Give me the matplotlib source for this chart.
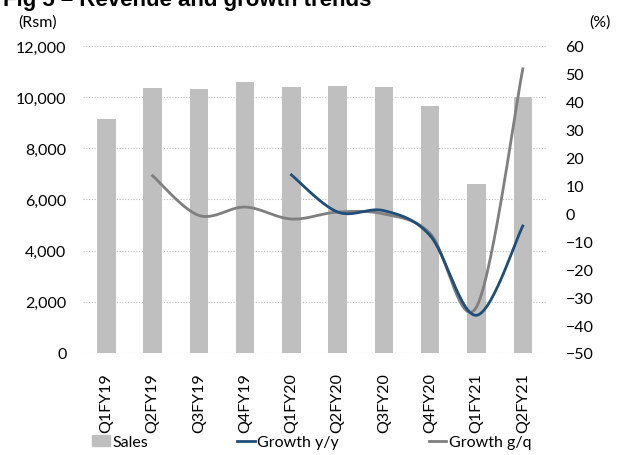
import numpy as np
import matplotlib.pyplot as plt
from matplotlib.lines import Line2D
from matplotlib.patches import Patch

quarters = ['Q1FY19', 'Q2FY19', 'Q3FY19', 'Q4FY19', 'Q1FY20',
            'Q2FY20', 'Q3FY20', 'Q4FY20', 'Q1FY21', 'Q2FY21']
sales = [9130, 10340, 10300, 10580, 10400, 10450, 10400, 9650, 6600, 10020]
growth_yy = [None, None, None, None, 13.8, 0.5, 1.0, -8.0, -36.5, -4.5]
growth_qq = [None, 13.5, -0.7, 2.3, -2.0, 0.5, -0.2, -7.2, -33.5, 51.8]


def smooth(xs, ys, n=30):
    # Catmull-Rom curve through the points, like a smoothed line in Excel
    xs = np.asarray(xs, float)
    ys = np.asarray(ys, float)
    px = np.concatenate([[xs[0]], xs, [xs[-1]]])
    py = np.concatenate([[ys[0]], ys, [ys[-1]]])
    outx, outy = [], []
    for i in range(1, len(px) - 2):
        t = np.linspace(0, 1, n)
        p0x, p1x, p2x, p3x = px[i - 1:i + 3]
        p0y, p1y, p2y, p3y = py[i - 1:i + 3]
        c1x, c1y = p1x + (p2x - p0x) / 6, p1y + (p2y - p0y) / 6
        c2x, c2y = p2x - (p3x - p1x) / 6, p2y - (p3y - p1y) / 6
        bx = (1-t)**3*p1x + 3*(1-t)**2*t*c1x + 3*(1-t)*t**2*c2x + t**3*p2x
        by = (1-t)**3*p1y + 3*(1-t)**2*t*c1y + 3*(1-t)*t**2*c2y + t**3*p2y
        outx.extend(bx)
        outy.extend(by)
    return outx, outy


def series(vals):
    idx = [i for i, v in enumerate(vals) if v is not None]
    return idx, [vals[i] for i in idx]


plt.rcParams['font.family'] = ['Lato', 'DejaVu Sans']
fs = 11.5
fig = plt.figure(figsize=(6.4, 4.56), dpi=100)
ax = fig.add_axes([0.13, 0.2237, 0.723, 0.6733])
ax2 = ax.twinx()

x = np.arange(len(quarters))
ax.bar(x, sales, width=0.4, color='#bfbfbf', zorder=2)
ax.set_xlim(-0.5, len(quarters) - 0.5)
ax.set_ylim(0, 12000)
ax.set_yticks(range(0, 12001, 2000))
ax.set_yticklabels([f'{v:,}' for v in range(0, 12001, 2000)], fontsize=fs)
ax.set_xticks(x)
ax.set_xticklabels(quarters, rotation=90, fontsize=fs)
ax.yaxis.grid(True, linestyle=(0, (1, 1.5)), color='#bfbfbf', linewidth=0.8, zorder=0)
ax.set_axisbelow(True)

ix, iy = series(growth_qq)
sx, sy = smooth(ix, iy)
ax2.plot(sx, sy, color='#7f7f7f', linewidth=2, zorder=3)
ix, iy = series(growth_yy)
sx, sy = smooth(ix, iy)
ax2.plot(sx, sy, color='#1f4e79', linewidth=2, zorder=4)
ax2.set_ylim(-50, 60)
ax2.set_yticks(range(-50, 61, 10))
ax2.tick_params(axis='y', labelsize=fs)

for a in (ax, ax2):
    for s in a.spines.values():
        s.set_visible(False)
    a.tick_params(length=0)
ax.tick_params(axis='y', pad=12)
ax.tick_params(axis='x', pad=14)
ax2.tick_params(axis='y', pad=14)

fig.text(0.005, 0.998, 'Fig 5 \u2013 Revenue and growth trends', fontsize=16,
         fontweight='bold', family='Liberation Sans', va='center', ha='left')
fig.text(0.028, 0.95, '(Rsm)', fontsize=fs, va='center')
fig.text(0.92, 0.95, '(%)', fontsize=fs, va='center')

handles = [Patch(color='#bfbfbf'),
           Line2D([], [], color='#1f4e79', linewidth=2),
           Line2D([], [], color='#7f7f7f', linewidth=2)]
fig.legend(handles, ['Sales', 'Growth y/y', 'Growth g/q'], loc='center',
           bbox_to_anchor=(0.487, 0.028), ncol=3, frameon=False, fontsize=fs,
           handlelength=1.1, handletextpad=0.15, columnspacing=5.6)

fig.savefig('out.png', dpi=100)
